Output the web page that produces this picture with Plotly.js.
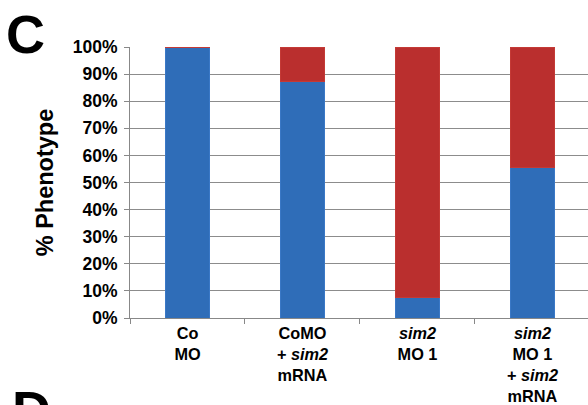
<!DOCTYPE html>
<html>
<head>
<meta charset="utf-8">
<script src="https://cdn.plot.ly/plotly-3.0.1.min.js"></script>
<style>html,body{margin:0;padding:0;background:#fff;overflow:hidden}</style>
</head>
<body>
<div id="chart" style="width:588px;height:405px"></div>
<script>
const categories = ["Co<br>MO", "CoMO<br>+ <i>sim2</i><br>mRNA", "<i>sim2</i><br>MO 1", "<i>sim2</i><br>MO 1<br>+ <i>sim2</i><br>mRNA"];
const normalPct = [100, 87.2, 7.6, 55.6];
const phenotypePct = [0, 12.8, 92.4, 44.4];
const yTickVals = [0,10,20,30,40,50,60,70,80,90,100];
const yTickText = yTickVals.map(v => v + "%");

const traces = [
  {type:"bar", x:categories, y:normalPct, marker:{color:"#2F6DB8", line:{color:"#3A78C6", width:1}}, width:0.39, hoverinfo:"skip"},
  {type:"bar", x:categories, y:phenotypePct, marker:{color:"#BA2F2E", line:{color:"#C43A36", width:1}}, width:0.39, hoverinfo:"skip"}
];
const layout = {
  width:588, height:405, barmode:"stack", showlegend:false,
  margin:{l:130, r:0, t:47, b:87},
  paper_bgcolor:"#fff", plot_bgcolor:"#fff",
  font:{family:"Liberation Sans, Arial, sans-serif", color:"#000"},
  xaxis:{type:"category", range:[-0.5, 3.483], tickson:"boundaries", ticks:"outside", ticklen:5, tickcolor:"#888",
    showline:true, linecolor:"#888", linewidth:1, showgrid:false, zeroline:false,
    tickfont:{size:16.3, family:"Liberation Sans, Arial, sans-serif", weight:"bold", color:"#000"}},
  yaxis:{range:[0,100], tickvals:yTickVals, ticktext:yTickText, ticks:"outside", ticklen:5, tickcolor:"#888",
    ticklabelstandoff:3,
    showline:true, linecolor:"#888", linewidth:1, showgrid:true, gridcolor:"#8c8c8c", gridwidth:1, zeroline:false,
    tickfont:{size:17.5, family:"Liberation Sans, Arial, sans-serif", weight:"bold", color:"#000"},
    title:{text:"% Phenotype", standoff:12, font:{size:23.5, family:"Liberation Sans, Arial, sans-serif", weight:"bold", color:"#000"}}},
  annotations:[
    {text:"C", xref:"paper", yref:"paper", x:-130/458, y:1+47/271, xanchor:"left", yanchor:"top", xshift:4, yshift:-2, showarrow:false,
      font:{size:54, family:"Liberation Sans, Arial, sans-serif", weight:"bold", color:"#000"}},
    {text:"D", xref:"paper", yref:"paper", x:-130/458, y:-60/271, xanchor:"left", yanchor:"top", xshift:10, yshift:0, showarrow:false,
      font:{size:54, family:"Liberation Sans, Arial, sans-serif", weight:"bold", color:"#000"}}
  ]
};
Plotly.newPlot("chart", traces, layout, {displayModeBar:false, staticPlot:true});
</script>
</body>
</html>
